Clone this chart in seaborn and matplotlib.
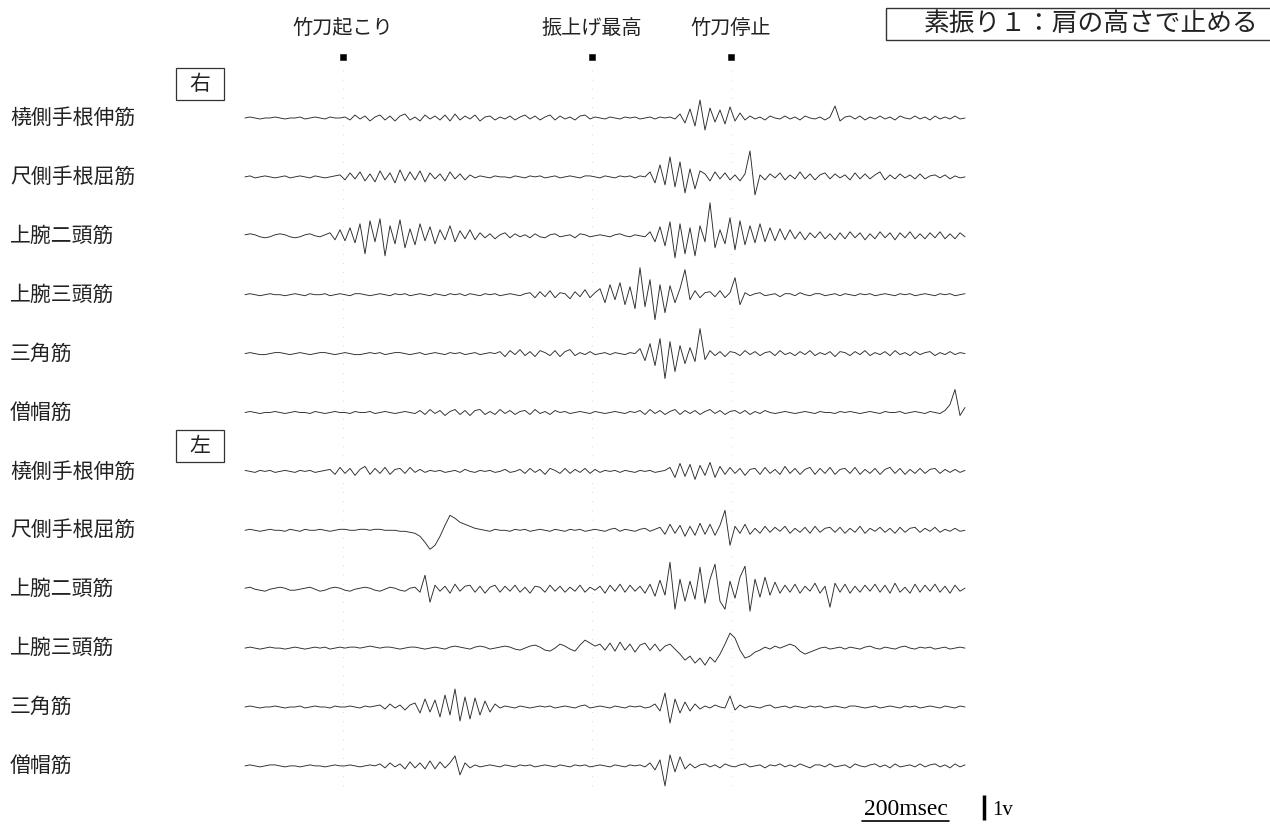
import numpy as np
import pandas as pd
import matplotlib
matplotlib.use('Agg')
import matplotlib.pyplot as plt
from matplotlib.patches import Rectangle
import seaborn as sns

# EMG traces, one value per 11.5 ms step,
# amplitude in trace units (25 units = 1 v), up is positive
T_STEP = 11.5
UNITS_PER_VOLT = 25

muscles = ['橈側手根伸筋', '尺側手根屈筋', '上腕二頭筋', '上腕三頭筋', '三角筋', '僧帽筋'] * 2
events = ['竹刀起こり', '振上げ最高', '竹刀停止']
event_ms = [225, 798, 1118]
title = '素振り１：肩の高さで止める'

# right side
r_ecr = [0, 1, 0, -1, 0, 0, 1, 0, -1, 0, 0, 1, -1, 0, 1, 0, -1, 1, 0, 0,
         1, -2, 3, -1, 2, -3, 1, 3, -2, 2, -3, 2, 4, -2, 1, -3, 3, -1, 2, -2,
         3, -3, 4, -2, 2, -1, 3, -3, 1, 2, -2, 1, -1, 2, -2, 1, 3, -1, 2, -2,
         1, 3, -2, 2, -1, 1, -2, 2, 3, -1, 1, 0, -1, 1, 0, -1, 1, 0, 1, -1,
         0, 1, -1, 1, 0, 1, -1, 4, -5, 9, -8, 18, -12, 10, -4, 8, -6, 11, -3, 5,
         -2, 2, -1, 1, -2, 2, 0, -1, 2, -1, 1, -2, 2, 0, -1, 1, -2, 1, 12, -3,
         1, 2, -1, 2, -2, 1, -1, 2, -1, 1, -2, 2, 0, -1, 2, -1, 1, -2, 2, -1,
         1, -1, 2, -1, 0]
r_fcu = [0, 1, -1, 0, 1, 0, -1, 0, 1, -1, 0, 1, 0, -1, 1, 0, -1, 0, 1,
         2, -3, 4, -2, 5, -4, 3, -5, 6, -3, 4, -6, 7, -4, 5, -3, 6, -5, 4, -2,
         3, -4, 5, -2, 3, -3, 2,
         -1, 1, 0, -1, 1, 0, 0, -1, 1, 0, -1, 1, 0, 1, -1, 0, 1, -1, 0, 1,
         0, -1, 1, 1, 0,
         -1, 1, 0, -1, 1, 0, 1, -1, 1, 0,
         5, -6, 12, -8, 20, -10, 15, -16, 8, -12, 6,
         3, -4, 5, -2, 4, -3, 2, -4, 3, 26, -18,
         2, -3, 3, -1, 4, -3, 2, -2, 5, -2, 3, -3, 2, 4, -2, 3, -1, 2, -3, 4,
         -2, 3, -2, 2, 5, -3, 2, -2, 3, -1, 2, -2, 3, -2, 1, 2, -1, 2, -2, 1,
         -1, 0]
r_bic = [1, 2, 1, -1, -2, -1, 1, 2, 1, -1, -2, -1, 1, 2, 0, -1, 1,
         3, -4, 6, -5, 8, -7, 12, -18, 15, -6, 17, -20, 10, -8, 16, -12, 7, -9, 12, -5,
         9, -8, 6, -4, 10, -6, 5, -3, 6, -4, 3,
         -2, 2, -3, 1, 3, -2, 2, -1, 1, -2, 2, -1, -2, 1, 2, -1, 0, 1, -2, 2,
         1, -1, 0,
         1, 0, -1, 1, 2, 0, -1, 1, 0, -1,
         4, -6, 9, -10, 14, -22, 12, -18, 8, -20, 10, -6, 33, -12, 6, -8, 18, -14, 15, -9,
         10, -7, 12, -6, 8, -5, 7, -4, 6,
         -3, 4, -4, 3, -2, 4, -3, 2, -4, 3, -3, 4, -2, 3, -4, 2, -3, 4, -2, 3,
         -4, 3, -2, 4, -3, 2, -3, 3, -2, 4, -3, 2, -3, 3, -1]
r_tri = [0, 1, 0, -1, 0, 1, 0, 0, -1, 0, 1, 0, -1, 1, 0, 0, 1, -1, 0, 1,
         0, -1, 1, 1, 0, -1, 0, 1, 0, -1, 1, 0, 1, -1, 0, 1, 0, -1, 1, 0,
         -1, 1, 0, 1, -1, 1, 0, -1, 1, 0, 1, -1, 0, 1, 0, -1, 1,
         2, -3, 3, -2, 4, -3, 2, 1, -4, 3, -2, 5, -3, 2,
         6, -8, 10, -5, 12, -10, 8, -14, 27, -12, 15, -25, 10, -18, 9, -8, 6,
         25, -5, 4, -3, 2, 3, -2, 4, -3, 2, 17, -10,
         2, -1, 1, 2, -1, 0, 1, -2, 1, 1, -1, 2, 0, -1, 1, 1, -1, 0, 1, -1,
         1, 0, -1, 1, 0, 1, -1, 0, 1, 0, -1, 1, 0, 1, -1, 0, 1, 0, -1, 1,
         0, 1, -1, 0, 1]
r_del = [0, 1, 0, -1, -1, 0, 1, 1, 0, -1, 0, 1, 0, -1, 0, 1, 1, 0, -1, 0,
         1, 0, -1, -1, 0, 1, 0, 1, -1, 0, 1, 1, 0, -1, 0, 1, -1, 0, 1, 0,
         -1, 1, 0, 1, -1, 0, 1, -1, 0, 1, 0,
         2, -3, 3, -1, 4, -2, 2, -3, 3, 1, -2, 3, -3, 2, 4, -2, 1, -1, 2, -1,
         0, 1, -1, 1, 0, -1, 1, 0,
         5, -7, 10, -12, 15, -25, 12, -18, 8, -10, 6, -8, 25, -6,
         3, -2, 2, -3, 2, 1, -2, 3, -1, 2, -2, 1, 2, -2, 3, -1, 1, -2, 2, -1,
         3, -2, 1, -1, 2, -3, 2, 1, -2, 2, -1, 3, -2, 1, -1, 2, -2, 3, -1, 1,
         -2, 2, -1, 1, 2, -2, 1, -1, 2, -1, 1, 0]
r_trap = [0, 1, 0, -1, 0, 0, 1, 0, -1, 0, 1, 0, 0, -1, 1, 0, -1, 0, 1, 0,
          0, -1, 1, 0, 0, 1, -1, 0, 1, 0, -1, 0, 1, 0, -1,
          2, -2, 3, -1, 2, -3, 1, 3, -2, 2, -3, 2, 3, -2, 1, -2, 3, -1, 2, -2,
          1, 2, -2, 3, -1, 1, -2, 2,
          0, 1, -1, 0, 1, 0, -1, 1, 0, -1, 0, 1, 0, -1, 1, 0,
          2, -2, 3, -1, 2, -2, 1, 3, -2, 2, -1, 2, -2, 1, 3, -1, 2, -2, 1, 2,
          -1, 2, -2, 1, -1, 2, 0, -1,
          0, 1, 0, -1, 0, 1, 0, -1, 1, 0, 0, -1, 1, 0, 1, 0, -1, 0, 1, 0,
          -1, 1, 0, 0, 1, -1, 0, 1, 0, -1, 1, 0, -1, 2,
          8, 23, -3, 5]

# left side
l_ecr = [1, 0, -1, 1, 0, 1, -1, 0, 1, 0, -1, 1, 0, 1, -1, 0, 1,
         2, -3, 4, -2, 3, -4, 2, 5, -3, 3, -2, 4, -3, 2, 3, -2, 4, -1, 2,
         -1, 1, 0, 1, -1, 0, 1, -1, 2, 0, -1, 1, 0, 1, -1, 0, 2, -1, 0,
         2, -2, 3, -1, 2, -3, 3, 1, -2, 3, -2, 2, -1, 3, -2, 2, -1, 1,
         0, 1, -1, 1, 0, -1, 1, 0, 1, -1, 0, 1,
         4, -6, 8, -5, 7, -8, 6, -4, 9, -6, 5,
         -3, 4, -2, 3, -4, 2, 3, -3, 4, -2, 2, -3, 5, -2, 3, -3, 2, 4, -3, 3,
         -2, 4, -3, 2, 3, -2, 4, -3, 2, -2, 3, -3, 2, 4, -2, 3, -3, 2, -2, 3,
         -2, 2, 3, -2, 2, -1, 2, -1, 1]
l_fcu = [0, 1, 0, -1, 0, 1, 0, 0, -1, 1, 0, -1, 1, 0, 0, 1, 0, -1, 0, 1,
         1, 0, 0, 1, 1, 0, 1, 1, 0, 0, 0, -1, -1, -2,
         -3, -6, -12, -19, -15, -6, 5, 15, 12, 8, 6, 4, 2, 1,
         0, -1, 1, 0, 0, -1, 1, 0, 1, -1, 0, 1, 0, -1, 1, 0, -1, 1, 0, 1,
         -1, 0, 1, 0, -1, 1, 2, -1, 1, 0, -1, 1, 2, -1, 1,
         3, -4, 6, -3, 5, -6, 4, -5, 7, -4, 6, -5, 5, 20, -15, 4, -3, 6, -4,
         2, -3, 4, -2, 3, -1, 4, -3, 2, -2, 3, -3, 4, -2, 2, 3, -2, 3, -3, 2,
         -2, 4, -3, 2, -1, 3, -2, 2, -3, 3, -2, 2, 3, -2, 2, -1, 3, -2, 1, -1,
         2, -1, 0]
l_bic = [1, 2, 0, -1, -2, 0, 1, 2, 1, -1, -1, 0, 1, 2, 0, -2, -1, 1, 2, 1,
         -1, -2, 0, 1, 2, 1, -1, -2, 0, 2, 1, -1, -2, 1, 2,
         -3, 14, -13, 4, -2, 3, -4, 5, -2, 3, 4, -3, 3, -4, 2, 4, -3, 3, -2, 4,
         -3, 2, -4, 3, 2, -3, 4, -2, 3, -3, 2, -2, 4, -3, 2, -1,
         3, -4, 4, -2, 5, -3, 4, -2, 3, -4,
         5, -7, 9, -6, 27, -20, 10, -12, 8, -10, 22, -14, 10, 25, -12, -20, 8, -9, 12, 23,
         -22, 10, -8, 12, -6, 7, -4,
         4, -3, 5, -4, 3, -2, 6, -4, 3, -18, 6, -3, 5, -4, 3, -3, 4, -2, 5, -3,
         4, -4, 6, -3, 2, -4, 5, -3, 4, -2, 5, -3, 3, -4, 4, -2, 1]
l_tri = [0, 1, 0, -1, 0, 1, 0, 0, -1, 0, 1, 0, -1, 0, 1, 0, 1, -1, 0, 1,
         0, 1, 1, 0, 1, 2, 1, 0, 1, 1, 0, -1, 0, 1, 1, 0, -1, 0, 1, 0, -1,
         1, 2, 1, 0, -1, 1, 2, 1, -1, 0, 1, 2, 1, -1,
         -2, 0, 2, 3, 1, -2, -3, 0, 4, 2, -1, -3, 3, 8, 5, 2,
         4, -2, 5, -3, 6, -2, 4, -4, 3, 5, -2, 4, -3, 2, 4, -1,
         -6, -12, -8, -15, -10, -17, -9, -14, -6,
         4, 15, 10, -2, -10, -8, -4, -2, 1, -1, 2, 0,
         2, 4, 2, -3, -6, -4,
         -2, 0, 1, -1, 0, 1, -1, 1, 0, -1, 1, 2, 0, -1, 1, 0, -1, 1, 2, 0,
         -1, 1, 0, 1, -1, 0, 1, -1, 0, 1, 0]
l_del = [0, 1, 0, -1, 0, 0, 1, 0, -1, 0, 0, 1, -1, 0, 1, 0, 0, -1, 1, 0,
         0, 1, 0, -1, 1, 0, 1,
         2, -2, 3, -1, 2, -3, 2,
         4, -6, 8, -5, 7, -10, 12, -8, 18, -14, 10, -12, 9, -8, 6, -5, 3,
         -1, 1, 0, -1, 1, 0, -1, 0, 1, 0, 1, -1, 0, 1, 0, -1, 1, 2, -1, 0,
         1, 0, -1, 1, 0, -1, 1, 0, 1, -1, 0,
         3, -4, 14, -16, 8, -6, 5, -4, 3,
         -2, 1, -1, 2, 0, -1, 11, -3,
         2, -1, 1, 0, -1, 1, 2, -1, 0, 1, -1, 1, 0, -1, 1, 0, 1, -1, 0, 1,
         0, -1, 1, 1, 0, -1, 0, 1, -1, 0, 1, 0, -1, 1, 0, 1, -1, 0, 1, 0,
         -1, 1, 0, -1, 1, 0]
l_trap = [0, 1, 0, -1, 0, 1, 1, 0, -1, 0, 0, -1, 0, 1, 0, 0, -1, 0, 1, 0,
          0, 1, 0, -1, 0, 1, 0,
          2, -2, 3, -1, 2, -3, 4, -2, 3, -3, 5, -3, 4, -2, 3, 10, -9, 3, -2,
          1, -1, 0, 1, 0, -1, 1, 0, -1, 1, 0, 1, -1, 0, 1, 0, -1, 1, 0, -1,
          1, 0, 1, -1, 0, 1, 0, -1, 1, 0, -1, 1, 0, 1, -1,
          3, -4, 6, -20, 11, -6, 9, -3, 2,
          -2, 1, 2, -1, 1, -2, 2, 0, -1, 1, 2, -1, 0, 1, -2, 1, 0, 2, -1, 1,
          -1, 2, 0, -2, 1, 1, -1, 2, -1, 0, 1, -2, 2, 0, -1, 1, 2, -1, 1, -2,
          2, -1, 0, 1, -1, 2, -1, 1, 2, -1, 1, -2, 2, -1, 1]

traces = [r_ecr, r_fcu, r_bic, r_tri, r_del, r_trap,
          l_ecr, l_fcu, l_bic, l_tri, l_del, l_trap]

# page layout in pixels (1270 x 825)
W, H = 1270, 825
X0 = 245                 # pixel where the traces start
PX_PER_MS = 5 / T_STEP
ROW0, ROW_GAP = 118, 58.9
MARK_Y = 57

sns.set_theme(style='white')
plt.rcParams['font.family'] = ['Noto Sans CJK JP', 'DejaVu Sans']

frames = []
for i, vals in enumerate(traces):
    v = np.array(vals, dtype=float)
    base = ROW0 + i * ROW_GAP
    frames.append(pd.DataFrame({'t': np.arange(len(v)) * T_STEP,
                                'y': base - v,
                                'trace': i}))
df = pd.concat(frames, ignore_index=True)

fig = plt.figure(figsize=(W / 100, H / 100), dpi=100)
ax = fig.add_axes([0, 0, 1, 1])
ax.set_xlim(-X0 / PX_PER_MS, (W - X0) / PX_PER_MS)
ax.set_ylim(H, 0)
ax.axis('off')

# faint dotted event lines
for t in event_ms:
    ax.plot([t, t], [70, 790], color='#cccccc', lw=0.6, ls=(0, (1, 10)), zorder=1)

sns.lineplot(data=df, x='t', y='y', units='trace', estimator=None,
             color='#2a2a2a', lw=0.65, legend=False, ax=ax, zorder=3)

ev = pd.DataFrame({'t': event_ms, 'y': [MARK_Y] * len(event_ms)})
sns.scatterplot(data=ev, x='t', y='y', marker='s', s=22, color='black',
                edgecolor='black', legend=False, ax=ax, zorder=4)
for t, name in zip(event_ms, events):
    ax.text(t, 28, name, ha='center', va='center', fontsize=14.5, color='#222222')

# scale bars: 200 msec and 1 v
sb_t = 1420
ax.plot([sb_t, sb_t + 200], [821, 821], color='black', lw=1.2)
ax.text(sb_t + 100, 815, '200msec', ha='center', va='baseline',
        fontsize=17, family='Liberation Serif', color='black')
vb_t = 1700
ax.plot([vb_t, vb_t], [820, 820 - UNITS_PER_VOLT], color='black', lw=2.5,
        solid_capstyle='butt')
ax.text(vb_t + 18, 815, '1v', ha='left', va='baseline',
        fontsize=15, family='Liberation Serif', color='black')

# page furniture in pixel coordinates
lay = fig.add_axes([0, 0, 1, 1])
lay.set_xlim(0, W)
lay.set_ylim(H, 0)
lay.axis('off')
lay.patch.set_alpha(0)

for i, name in enumerate(muscles):
    lay.text(10, ROW0 + i * ROW_GAP, name, ha='left', va='center',
             fontsize=15, color='#222222')

for side, top in [('右', 68), ('左', 430)]:
    lay.add_patch(Rectangle((176, top), 48, 32, fill=False, lw=0.9, ec='#333333'))
    lay.text(200, top + 16, side, ha='center', va='center', fontsize=15, color='#222222')

lay.add_patch(Rectangle((886, 8), 400, 32, fill=False, lw=1.0, ec='#333333', clip_on=False))
lay.text(1091, 24, title, ha='center', va='center', fontsize=18.5, color='#222222')

fig.savefig('out.png', dpi=100)
plt.close(fig)
